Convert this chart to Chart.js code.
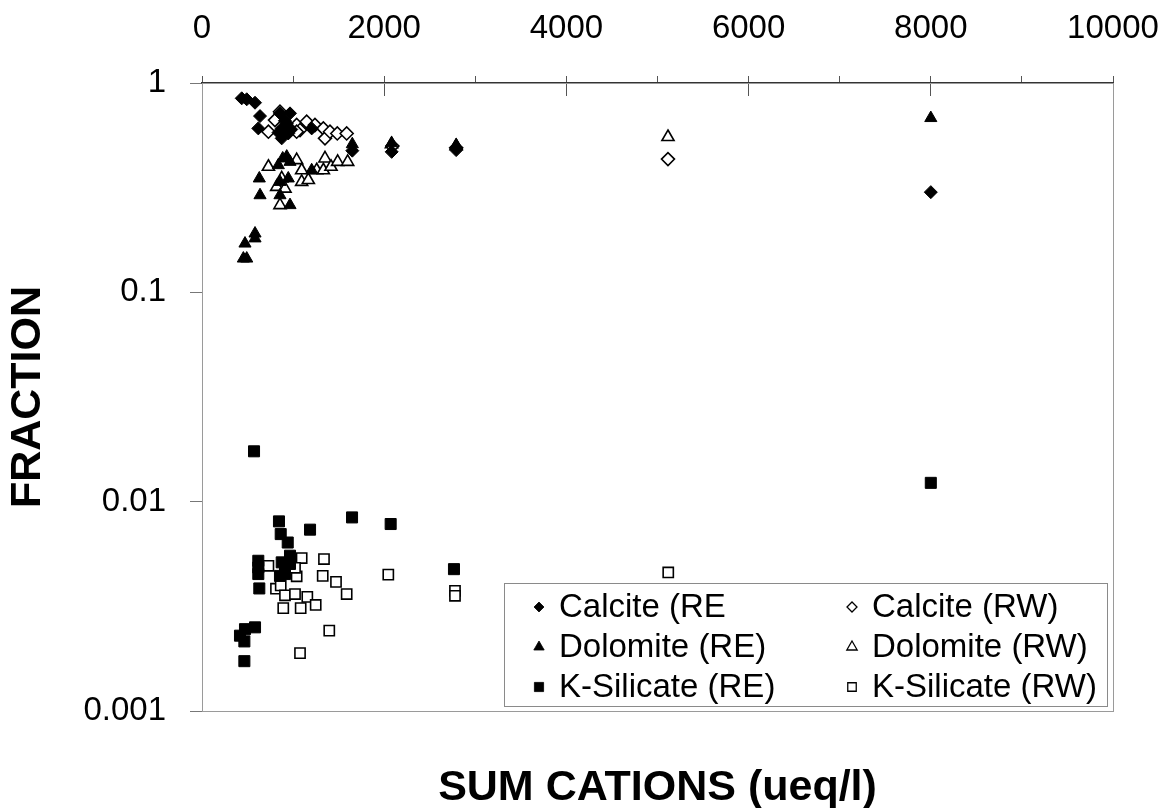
<!DOCTYPE html>
<html><head><meta charset="utf-8">
<script src="https://cdn.jsdelivr.net/npm/chart.js@4.4.1/dist/chart.umd.min.js"></script>
<style>html,body{margin:0;padding:0;background:#fff;} canvas{display:block;}</style>
</head><body>
<canvas id="c" width="1176" height="808"></canvas>
<script>
// ---------- data ----------
const xTickValues = [0, 2000, 4000, 6000, 8000, 10000];
const yTickValues = [0.001, 0.01, 0.1, 1];
const yTickLabels = ['0.001', '0.01', '0.1', '1'];
const xTitle = 'SUM CATIONS (ueq/l)';
const yTitle = 'FRACTION';
const seriesLabels = ['Calcite (RE', 'Calcite (RW)', 'Dolomite (RE)', 'Dolomite (RW)', 'K-Silicate (RE)', 'K-Silicate (RW)'];

const calciteRE_x = [436, 491, 582, 637, 618, 856, 966, 875, 875, 947, 930, 910, 840, 980, 1204, 1650, 2082, 2790, 8000];
const calciteRE_y = [0.845, 0.836, 0.805, 0.695, 0.607, 0.716, 0.716, 0.607, 0.544, 0.574, 0.641, 0.66, 0.58, 0.60, 0.607, 0.475, 0.469, 0.478, 0.301];

const calciteRW_x = [729, 801, 856, 1039, 1076, 1149, 1240, 1332, 1350, 1405, 1485, 1588, 1039, 2090, 2790, 5115];
const calciteRW_y = [0.585, 0.665, 0.729, 0.63, 0.596, 0.653, 0.63, 0.607, 0.544, 0.585, 0.574, 0.574, 0.585, 0.50, 0.49, 0.433];

const dolomiteRE_x = [472, 454, 491, 582, 582, 629, 637, 856, 966, 856, 886, 930, 966, 947, 838, 1204, 1650, 2082, 2790, 8000];
const dolomiteRE_y = [0.171, 0.145, 0.145, 0.191, 0.181, 0.350, 0.291, 0.291, 0.261, 0.337, 0.436, 0.445, 0.420, 0.350, 0.405, 0.383, 0.51, 0.516, 0.505, 0.68];

const dolomiteRW_x = [729, 820, 911, 856, 875, 1039, 1094, 1167, 1094, 1259, 1332, 1350, 1416, 1489, 1599, 2080, 2790, 5115];
const dolomiteRW_y = [0.398, 0.319, 0.313, 0.261, 0.35, 0.428, 0.337, 0.344, 0.383, 0.383, 0.383, 0.436, 0.398, 0.42, 0.42, 0.51, 0.50, 0.552];

const ksilRE_x = [571, 845, 864, 941, 1186, 1647, 2071, 2766, 618, 618, 618, 629, 875, 911, 966, 966, 856, 911, 472, 582, 417, 465, 465, 8000];
const ksilRE_y = [0.0174, 0.00805, 0.0070, 0.00638, 0.00735, 0.00841, 0.00782, 0.00476, 0.00522, 0.00485, 0.00451, 0.00385, 0.00513, 0.00476, 0.00552, 0.00504, 0.00442, 0.00451, 0.00246, 0.00251, 0.00229, 0.00215, 0.00173, 0.0123];

const ksilRW_x = [1094, 1339, 729, 1039, 1325, 1471, 1588, 812, 864, 911, 1021, 1156, 892, 1083, 1248, 1397, 1076, 2045, 2777, 2777, 5118, 1021];
const ksilRW_y = [0.00538, 0.00532, 0.00494, 0.0044, 0.00442, 0.00414, 0.00362, 0.00384, 0.00398, 0.00357, 0.00362, 0.00351, 0.0031, 0.0031, 0.00321, 0.00242, 0.00189, 0.00448, 0.00375, 0.00355, 0.00459, 0.00483];

// ---------- build ----------
const FONT = '"Liberation Sans", Arial, sans-serif';
function pts(xs, ys) { return xs.map((x, i) => ({ x: x, y: ys[i] })); }

function series(label, xs, ys, style, radius, filled, legendRadius, order) {
  return {
    label: label,
    data: pts(xs, ys),
    pointStyle: style,
    pointRadius: radius,
    pointHoverRadius: radius,
    backgroundColor: filled ? '#000' : '#fff',
    borderColor: '#000',
    borderWidth: filled ? 1 : 1.6,
    legendRadius: legendRadius,
    order: order
  };
}

const datasets = [
  series(seriesLabels[0], calciteRE_x, calciteRE_y, 'rectRot', 6.5, true, 5, 1),
  series(seriesLabels[1], calciteRW_x, calciteRW_y, 'rectRot', 6.5, false, 5, 4),
  series(seriesLabels[2], dolomiteRE_x, dolomiteRE_y, 'triangle', 7, true, 6, 2),
  series(seriesLabels[3], dolomiteRW_x, dolomiteRW_y, 'triangle', 7, false, 6, 5),
  series(seriesLabels[4], ksilRE_x, ksilRE_y, 'rect', 7.8, true, 6.5, 3),
  series(seriesLabels[5], ksilRW_x, ksilRW_y, 'rect', 7.2, false, 6, 6)
];

function noPad(s) { s.paddingLeft = 0; s.paddingRight = 0; s.paddingTop = 0; s.paddingBottom = 0; }

const framePlugin = {
  id: 'frame',
  beforeDatasetsDraw(chart) {
    const a = chart.chartArea, ctx = chart.ctx;
    ctx.save();
    ctx.strokeStyle = '#9a9a9a';
    ctx.lineWidth = 1;
    ctx.strokeRect(a.left + 0.5, a.top + 0.5, a.right - a.left, a.bottom - a.top);
    ctx.restore();
  }
};

const legendPlugin = {
  id: 'boxLegend',
  afterDatasetsDraw(chart, args, opts) {
    const ctx = chart.ctx;
    ctx.save();
    ctx.fillStyle = '#fff';
    ctx.fillRect(opts.left, opts.top, opts.width, opts.height);
    ctx.strokeStyle = '#8a8a8a';
    ctx.lineWidth = 1;
    ctx.strokeRect(opts.left + 0.5, opts.top + 0.5, opts.width, opts.height);
    ctx.font = opts.font;
    ctx.textBaseline = 'middle';
    ctx.textAlign = 'left';
    chart.data.datasets.forEach((ds, i) => {
      const col = i % 2, row = Math.floor(i / 2);
      const mx = opts.left + opts.colX[col];
      const my = opts.top + opts.rowY[row];
      ctx.fillStyle = ds.backgroundColor;
      ctx.strokeStyle = ds.borderColor;
      ctx.lineWidth = ds.borderWidth * 0.8;
      Chart.helpers.drawPoint(ctx, { pointStyle: ds.pointStyle, radius: ds.legendRadius, rotation: 0, borderWidth: ds.borderWidth }, mx, my);
      ctx.fillStyle = '#000';
      ctx.fillText(ds.label, mx + opts.textGap, my + 1);
    });
    ctx.restore();
  }
};

new Chart(document.getElementById('c'), {
  type: 'scatter',
  data: { datasets: datasets },
  plugins: [framePlugin, legendPlugin],
  options: {
    responsive: false,
    animation: false,
    layout: { padding: { left: 0, right: 63, top: 0, bottom: 0 } },
    plugins: {
      legend: { display: false },
      tooltip: { enabled: false },
      title: {
        display: true,
        text: xTitle,
        position: 'bottom',
        fullSize: false,
        color: '#000',
        font: { family: FONT, size: 43, weight: 'bold', lineHeight: 1 },
        padding: { top: 56, bottom: -2 }
      },
      boxLegend: {
        left: 504, top: 583, width: 603, height: 123,
        colX: [35, 348], rowY: [24, 64, 104], textGap: 20,
        font: '33px ' + FONT
      }
    },
    scales: {
      x: {
        type: 'linear',
        position: 'top',
        min: 0, max: 10000,
        afterFit(s) { s.height = 83; noPad(s); },
        afterBuildTicks(s) {
          const t = [];
          for (let v = 0; v <= 10000; v += 1000) t.push({ value: v });
          s.ticks = t;
        },
        ticks: {
          color: '#000',
          padding: 27,
          maxRotation: 0,
          autoSkip: false,
          font: { family: FONT, size: 33 },
          callback: (v) => xTickValues.includes(v) ? String(v) : ''
        },
        grid: { drawOnChartArea: false, tickLength: 7, color: '#555', lineWidth: 1 },
        border: { display: true, color: '#333', width: 1.5 }
      },
      x2: {
        type: 'linear',
        position: { y: 1 },
        min: 0, max: 10000,
        afterFit(s) { noPad(s); },
        afterBuildTicks(s) { s.ticks = xTickValues.map(v => ({ value: v })); },
        ticks: { display: false },
        grid: { drawOnChartArea: false, tickLength: 13, color: '#555', lineWidth: 1 },
        border: { display: false }
      },
      y: {
        type: 'logarithmic',
        position: 'left',
        min: 0.001, max: 1,
        afterFit(s) { s.width = 202; noPad(s); },
        afterBuildTicks(s) { s.ticks = yTickValues.map(v => ({ value: v })); },
        ticks: {
          color: '#000',
          padding: 24,
          font: { family: FONT, size: 33 },
          callback: (v) => { const i = yTickValues.indexOf(v); return i >= 0 ? yTickLabels[i] : ''; }
        },
        grid: { drawOnChartArea: false, tickLength: 12, color: '#777', lineWidth: 1 },
        border: { display: true, color: '#666', width: 1 },
        title: {
          display: true,
          text: yTitle,
          color: '#000',
          font: { family: FONT, size: 43, weight: 'bold', lineHeight: 1.1 },
          padding: { top: 4, bottom: 0 }
        }
      }
    }
  }
});
</script>
</body></html>
